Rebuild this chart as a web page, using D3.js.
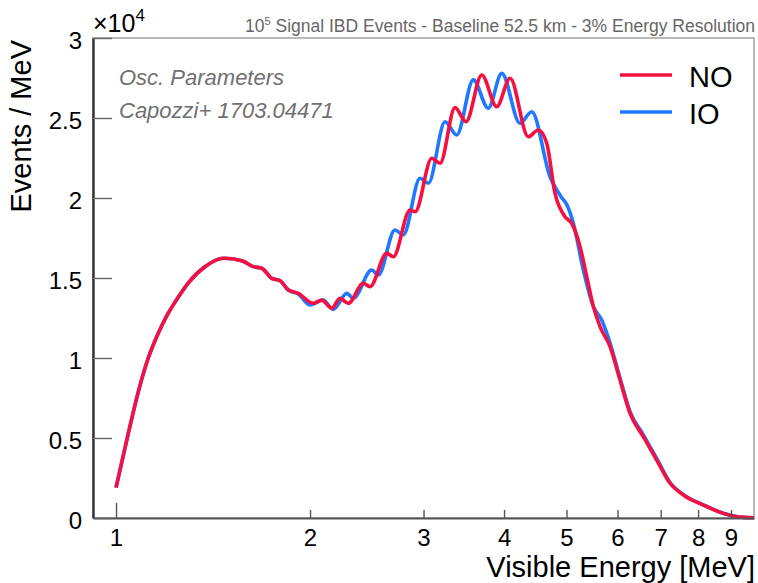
<!DOCTYPE html>
<html><head><meta charset="utf-8">
<script src="https://cdn.jsdelivr.net/npm/d3@7/dist/d3.min.js"></script>
<style>
body{margin:0;background:#fff}
svg{display:block}
text{font-family:"Liberation Sans",Arial,Helvetica,sans-serif}
</style>
</head><body>
<svg id="chart" width="758" height="583"></svg>
<script>
// ---- data (events per MeV, in units of 10^4) ----
const energyNO = [1.000,1.045,1.083,1.122,1.150,1.177,1.205,1.235,1.295,1.374,1.467,1.567,1.633,1.683,1.744,1.797,1.851,1.918,
  2.024,2.085,2.161,2.226,2.293,2.419,2.478,2.630,2.693,2.859,2.911,3.090,3.183,3.357,3.492,3.694,3.896,4.087,
  4.362,4.521,4.659,4.799,4.973,5.094,5.248,5.375,5.504,5.636,5.842,6.053,6.274,6.579,6.901,7.238,7.591,8.152,
  8.756,9.404,9.770];
const eventsNO = [0.19,0.53,0.79,1.00,1.11,1.20,1.28,1.35,1.47,1.57,1.623,1.608,1.571,1.561,1.498,1.483,1.425,1.404,
  1.342,1.362,1.311,1.373,1.342,1.467,1.446,1.654,1.633,1.925,1.914,2.248,2.217,2.565,2.477,2.769,2.571,2.748,
  2.383,2.425,2.342,2.029,1.883,1.842,1.696,1.508,1.321,1.196,1.071,0.862,0.654,0.508,0.362,0.217,0.144,0.081,
  0.029,0.004,0.002];
const energyIO = [1.000,1.045,1.083,1.122,1.150,1.177,1.205,1.235,1.295,1.374,1.467,1.567,1.633,1.683,1.744,1.797,1.851,1.918,
  2.000,2.095,2.173,2.281,2.334,2.493,2.553,2.709,2.791,2.963,3.052,3.240,3.378,3.584,3.781,3.967,4.235,4.416,
  4.714,4.900,5.003,5.124,5.310,5.504,5.670,5.842,6.053,6.274,6.579,6.901,7.238,7.591,8.152,8.756,9.404,9.770];
const eventsIO = [0.19,0.53,0.79,1.00,1.11,1.20,1.28,1.35,1.47,1.57,1.623,1.608,1.571,1.561,1.498,1.483,1.425,1.400,
  1.331,1.362,1.304,1.404,1.373,1.550,1.519,1.800,1.769,2.123,2.092,2.477,2.394,2.738,2.561,2.779,2.467,2.539,
  2.133,2.010,1.960,1.842,1.550,1.321,1.238,1.094,0.875,0.665,0.520,0.372,0.222,0.146,0.082,0.030,0.004,0.002];
const seriesNames = ["NO","IO"];
const seriesColors = ["#f7103f","#1f78ff"];
const xTickValues = [1,2,3,4,5,6,7,8,9];
const xTickLabels = ["1","2","3","4","5","6","7","8","9"];
const yTickValues = [0,0.5,1,1.5,2,2.5,3];
const yTickLabels = ["0","0.5","1","1.5","2","2.5","3"];
const xDomain = [0.921, 9.77];
const yDomain = [0, 3];

// ---- layout ----
const W = 758, H = 583;
const L = 93, R = 754, T = 38, B = 518;
const svg = d3.select("#chart");

const x = d3.scaleLog().domain(xDomain).range([L, R]);
const y = d3.scaleLinear().domain(yDomain).range([B, T]);

// frame (top/right)
svg.append("rect").attr("x", L).attr("y", T).attr("width", R - L).attr("height", B - T)
  .attr("fill", "none").attr("stroke", "#8a8a8a").attr("stroke-width", 1.2);

// curves
const line = d3.line().x(d => x(d[0])).y(d => y(d[1])).curve(d3.curveMonotoneX);
const dataIO = energyIO.map((e, i) => [e, eventsIO[i]]);
const dataNO = energyNO.map((e, i) => [e, eventsNO[i]]);
svg.append("path").datum(dataIO).attr("d", line).attr("fill", "none")
  .attr("stroke", seriesColors[1]).attr("stroke-width", 3.6).attr("stroke-linejoin", "round");
svg.append("path").datum(dataNO).attr("d", line).attr("fill", "none")
  .attr("stroke", seriesColors[0]).attr("stroke-width", 3.6).attr("stroke-linejoin", "round");

// x axis
const xAxis = d3.axisBottom(x).tickValues(xTickValues).tickFormat((d, i) => xTickLabels[i])
  .tickSizeInner(-8).tickSizeOuter(0).tickPadding(11);
const gx = svg.append("g").attr("transform", `translate(0,${B})`).call(xAxis);
gx.select(".domain").attr("stroke", "#555").attr("stroke-width", 2.2);
gx.selectAll(".tick line").attr("stroke", "#555").attr("stroke-width", 1.4)
  .filter(d => d === 1).attr("y2", -15);
gx.selectAll(".tick text").attr("font-size", 24).attr("fill", "#000")
  .attr("font-family", '"Liberation Sans",Arial,sans-serif');

// y axis
const yAxis = d3.axisLeft(y).tickValues(yTickValues).tickFormat((d, i) => yTickLabels[i])
  .tickSizeInner(-19).tickSizeOuter(0).tickPadding(11);
const gy = svg.append("g").attr("transform", `translate(${L},0)`).call(yAxis);
gy.select(".domain").attr("stroke", "#333").attr("stroke-width", 2.4);
gy.selectAll(".tick line").attr("stroke", "#666").attr("stroke-width", 1.4);
gy.selectAll(".tick text").attr("font-size", 24).attr("fill", "#000").attr("dy", "0.42em")
  .attr("font-family", '"Liberation Sans",Arial,sans-serif');

// exponent label
const ex = svg.append("text").attr("x", L).attr("y", 32).attr("font-size", 25).attr("fill", "#000");
ex.append("tspan").text("\u00d710");
ex.append("tspan").attr("font-size", 17).attr("dy", -11).text("4");

// title
const tt = svg.append("text").attr("x", 755).attr("y", 31.5).attr("text-anchor", "end")
  .attr("font-size", 17.5).attr("fill", "#666");
tt.append("tspan").text("10");
tt.append("tspan").attr("font-size", 11).attr("dy", -7).text("5");
tt.append("tspan").attr("dy", 7).text(" Signal IBD Events - Baseline 52.5 km - 3% Energy Resolution");

// axis titles
svg.append("text").attr("x", 755).attr("y", 577).attr("text-anchor", "end")
  .attr("font-size", 29).attr("fill", "#000").text("Visible Energy [MeV]");
svg.append("text").attr("transform", "translate(31,40) rotate(-90)").attr("text-anchor", "end")
  .attr("font-size", 29).attr("fill", "#000").text("Events / MeV");

// annotation
svg.append("text").attr("x", 119).attr("y", 85).attr("font-size", 22).attr("font-style", "italic")
  .attr("fill", "#707070").text("Osc. Parameters");
svg.append("text").attr("x", 119).attr("y", 118).attr("font-size", 22).attr("font-style", "italic")
  .attr("fill", "#707070").text("Capozzi+ 1703.04471");

// legend
const legY = [75, 112];
seriesNames.forEach((name, i) => {
  svg.append("line").attr("x1", 620).attr("x2", 672).attr("y1", legY[i]).attr("y2", legY[i])
    .attr("stroke", seriesColors[i]).attr("stroke-width", 3.6);
  svg.append("text").attr("x", 689).attr("y", legY[i] + 11.5).attr("font-size", 29)
    .attr("fill", "#000").text(name);
});
</script>
</body></html>
